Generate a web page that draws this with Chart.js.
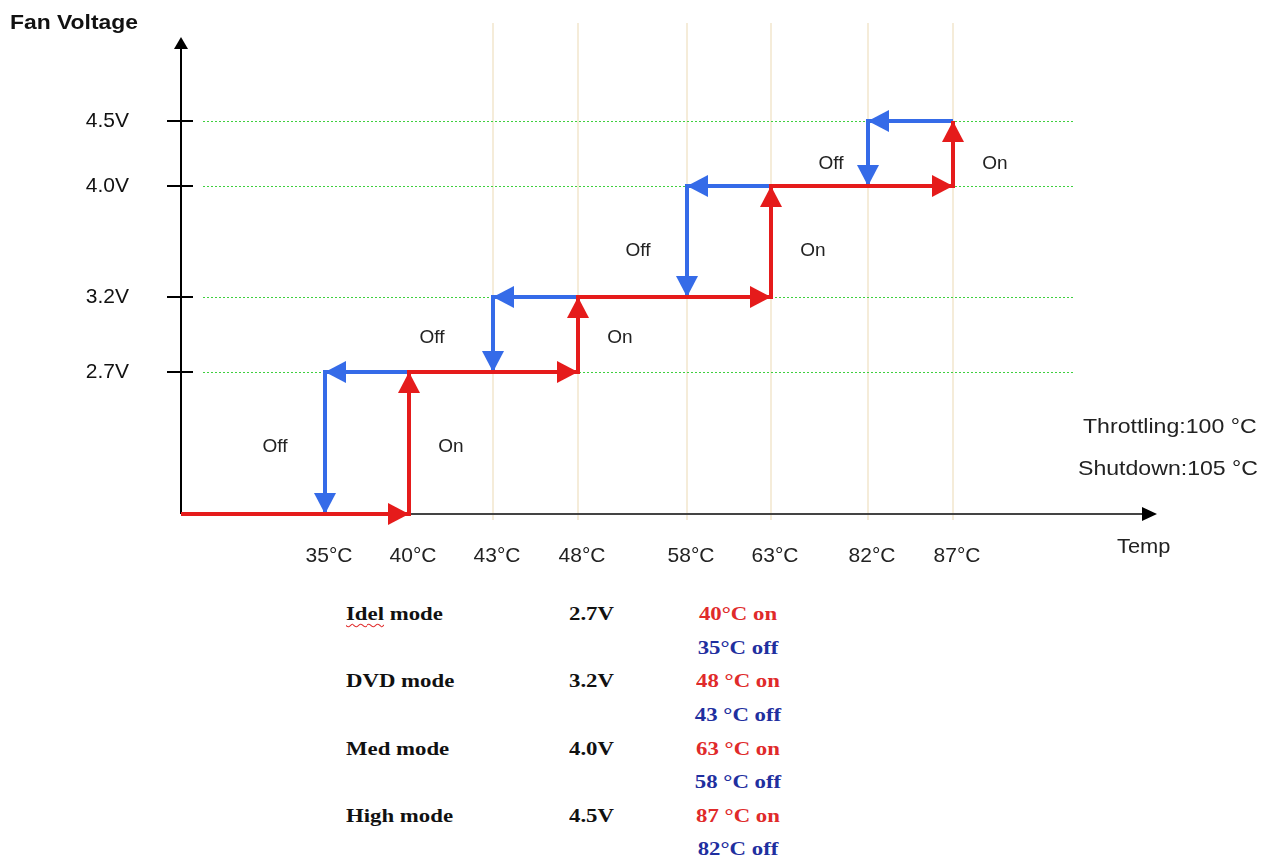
<!DOCTYPE html>
<html>
<head>
<meta charset="utf-8">
<script src="https://cdn.jsdelivr.net/npm/chart.js@4.4.1/dist/chart.umd.min.js"></script>
<style>
  html, body { margin: 0; padding: 0; background: #fff; }
  #wrap { position: relative; width: 1274px; height: 859px; overflow: hidden; }
  #fan { position: absolute; left: 0; top: 0; }
  .t { position: absolute; font: bold 19px "Liberation Serif", "Times New Roman", serif; line-height: 24px;
       white-space: nowrap; color: #111; transform: scaleX(1.2); transform-origin: 0 50%; }
  .c { width: 200px; text-align: center; transform-origin: 50% 50%; }
  .on { color: #e02a2a; }
  .off { color: #1f2f9f; }
  .sp { text-decoration: underline wavy #e03030; text-decoration-thickness: 1px; text-underline-offset: 3px; }
</style>
</head>
<body>
<div id="wrap">
  <canvas id="fan" width="1274" height="600"></canvas>
  <div id="table"></div>
</div>
<script>
// tick temperatures on the axis and the fan voltage steps
const temps = [35, 40, 43, 48, 58, 63, 82, 87];
const volts = [2.7, 3.2, 4.0, 4.5];
const onTemps = [40, 48, 63, 87];
const offTemps = [35, 43, 58, 82];
const modes = ['Idel mode', 'DVD mode', 'Med mode', 'High mode'];
const gapOn = ['', ' ', ' ', ' '];
const gapOff = ['', ' ', ' ', ''];
const throttleTemp = 100;
const shutdownTemp = 105;

const RED = '#e51b1b';
const BLUE = '#356be8';

// the drawing is a schematic: axes are not proportional, so the scale
// maps values piecewise between knots [value, offset along the axis]
class WarpScale extends Chart.LinearScale {
  static id = 'warp';
  static defaults = Chart.LinearScale.defaults;

  toDecimal(v) {
    const k = this.options.knots;
    const total = k[k.length - 1][1];
    let i = 1;
    while (i < k.length - 1 && v > k[i][0]) i++;
    const [v0, p0] = k[i - 1], [v1, p1] = k[i];
    return (p0 + (v - v0) / (v1 - v0) * (p1 - p0)) / total;
  }
  getPixelForValue(v) {
    return this.getPixelForDecimal(this.toDecimal(v));
  }
  getValueForPixel(px) {
    const k = this.options.knots;
    const d = this.getDecimalForPixel(px) * k[k.length - 1][1];
    let i = 1;
    while (i < k.length - 1 && d > k[i][1]) i++;
    const [v0, p0] = k[i - 1], [v1, p1] = k[i];
    return v0 + (d - p0) / (p1 - p0) * (v1 - v0);
  }
}
Chart.register(WarpScale);

function makeArrow(color) {
  const c = document.createElement('canvas');
  c.width = 50; c.height = 50;
  const g = c.getContext('2d');
  g.fillStyle = color;
  g.beginPath();
  g.moveTo(25, 25);
  g.lineTo(36, 46);
  g.lineTo(14, 46);
  g.closePath();
  g.fill();
  return c;
}

// heating path (on), arrow at every corner
const redPts = [{ x: 0, y: 0 }];
onTemps.forEach((t, i) => {
  redPts.push({ x: t, y: i ? volts[i - 1] : 0, rot: 90 });
  redPts.push({ x: t, y: volts[i], rot: 0 });
});

// cooling path (off), separate pieces
const bluePts = [];
for (let i = volts.length - 1; i >= 0; i--) {
  bluePts.push({ x: onTemps[i], y: volts[i] });
  bluePts.push({ x: offTemps[i], y: volts[i], rot: 270 });
  bluePts.push({ x: offTemps[i], y: i ? volts[i - 1] : 0, rot: 180 });
  if (i) bluePts.push({ x: offTemps[i], y: null });
}

function pathSet(label, pts, color, order) {
  const arrow = makeArrow(color);
  return {
    label: label,
    data: pts,
    order: order,
    borderColor: color,
    borderWidth: 4,
    borderJoinStyle: 'miter',
    borderCapStyle: 'butt',
    tension: 0,
    fill: false,
    spanGaps: false,
    clip: false,
    pointStyle: arrow,
    pointRadius: ctx => (ctx.raw && ctx.raw.rot !== undefined ? 6 : 0),
    pointRotation: ctx => (ctx.raw && ctx.raw.rot) || 0
  };
}

function line(ctx, x1, y1, x2, y2) {
  ctx.beginPath();
  ctx.moveTo(x1, y1);
  ctx.lineTo(x2, y2);
  ctx.stroke();
}

function txt(ctx, s, x, y, font, sx, align) {
  ctx.save();
  ctx.font = font;
  ctx.textAlign = align || 'left';
  ctx.translate(x, y);
  ctx.scale(sx, 1);
  ctx.fillText(s, 0, 0);
  ctx.restore();
}

const labelNudge = [[-50, 4], [-61, 3], [-49, 9], [-37, 10]];

const deco = {
  id: 'deco',
  beforeDatasetsDraw(chart) {
    const { ctx, chartArea: a, scales: { x, y } } = chart;
    ctx.save();
    // temperature guides (not drawn for the first step)
    ctx.strokeStyle = '#f2e6cc';
    ctx.lineWidth = 1.5;
    temps.slice(2).forEach(t => {
      const px = Math.round(x.getPixelForValue(t));
      line(ctx, px, a.top - 14, px, a.bottom + 6);
    });
    // voltage guides
    ctx.strokeStyle = '#3fd03f';
    ctx.lineWidth = 1;
    ctx.setLineDash([2, 2]);
    volts.forEach(v => {
      const py = Math.round(y.getPixelForValue(v)) + 0.5;
      line(ctx, a.left + 22, py, a.right - 84, py);
    });
    ctx.setLineDash([]);
    // y axis with arrow
    ctx.strokeStyle = '#000';
    ctx.fillStyle = '#000';
    ctx.lineWidth = 2;
    line(ctx, a.left, a.bottom, a.left, a.top + 10);
    volts.forEach(v => {
      const py = y.getPixelForValue(v);
      line(ctx, a.left - 14, py, a.left + 12, py);
    });
    ctx.beginPath();
    ctx.moveTo(a.left, a.top);
    ctx.lineTo(a.left + 7, a.top + 12);
    ctx.lineTo(a.left - 7, a.top + 12);
    ctx.closePath();
    ctx.fill();
    // x axis with arrow
    ctx.strokeStyle = '#444';
    line(ctx, a.left, a.bottom, a.right - 12, a.bottom);
    ctx.beginPath();
    ctx.moveTo(a.right, a.bottom);
    ctx.lineTo(a.right - 15, a.bottom - 7);
    ctx.lineTo(a.right - 15, a.bottom + 7);
    ctx.closePath();
    ctx.fill();
    ctx.restore();
  },
  afterDraw(chart) {
    const { ctx, chartArea: a, scales: { x, y } } = chart;
    ctx.save();
    ctx.fillStyle = '#111';
    ctx.textBaseline = 'alphabetic';
    txt(ctx, 'Fan Voltage', 10, 29, 'bold 21px "Liberation Sans", Arial, sans-serif', 1.09);
    ctx.fillStyle = '#222';
    txt(ctx, 'Temp', a.right - 40, 553, '21px "Liberation Sans", Arial, sans-serif', 1.04);
    txt(ctx, 'Throttling:' + throttleTemp + ' °C', 1083, 433, '21px "Liberation Sans", Arial, sans-serif', 1.1);
    txt(ctx, 'Shutdown:' + shutdownTemp + ' °C', 1078, 475, '21px "Liberation Sans", Arial, sans-serif', 1.1);
    ctx.textBaseline = 'middle';
    volts.forEach((v, i) => {
      const lo = y.getPixelForValue(i ? volts[i - 1] : 0);
      const hi = y.getPixelForValue(v);
      const mid = (lo + hi) / 2 + labelNudge[i][1];
      txt(ctx, 'Off', x.getPixelForValue(offTemps[i]) + labelNudge[i][0], mid, '19px "Liberation Sans", Arial, sans-serif', 1, 'center');
      txt(ctx, 'On', x.getPixelForValue(onTemps[i]) + 42, mid, '19px "Liberation Sans", Arial, sans-serif', 1, 'center');
    });
    ctx.restore();
  }
};

const tickFont = { family: '"Liberation Sans", Arial, sans-serif', size: 21 };

new Chart(document.getElementById('fan'), {
  type: 'line',
  data: {
    datasets: [
      pathSet('On', redPts, RED, 0),
      pathSet('Off', bluePts, BLUE, 1)
    ]
  },
  options: {
    responsive: false,
    animation: false,
    events: [],
    layout: { padding: { top: 37, right: 117, left: 0, bottom: 0 } },
    plugins: { legend: { display: false }, tooltip: { enabled: false } },
    scales: {
      x: {
        type: 'warp',
        min: 0,
        max: 120,
        knots: [[0, 0], [35, 144], [40, 228], [43, 312], [48, 397], [58, 506], [63, 590], [82, 687], [87, 772], [120, 976]],
        grid: { display: false, drawTicks: false },
        border: { display: false },
        afterBuildTicks: s => { s.ticks = temps.map(v => ({ value: v })); },
        afterFit: s => { s.height = 86; s.paddingLeft = 0; s.paddingRight = 0; },
        ticks: {
          autoSkip: false,
          maxRotation: 0,
          padding: 30,
          labelOffset: 4,
          color: '#222',
          font: tickFont,
          callback: v => v + '°C'
        }
      },
      y: {
        type: 'warp',
        min: 0,
        max: 6,
        knots: [[0, 0], [2.7, 142], [3.2, 217], [4.0, 328], [4.5, 393], [6, 477]],
        grid: { display: false, drawTicks: false },
        border: { display: false },
        afterBuildTicks: s => { s.ticks = volts.map(v => ({ value: v })); },
        afterFit: s => { s.width = 181; s.paddingTop = 0; s.paddingBottom = 0; },
        ticks: {
          autoSkip: false,
          padding: 52,
          color: '#111',
          font: tickFont,
          callback: v => v.toFixed(1) + 'V'
        }
      }
    }
  },
  plugins: [deco]
});

// settings table under the chart
const table = document.getElementById('table');
function put(html, left, cy, cls) {
  const d = document.createElement('div');
  d.className = 't ' + (cls || '');
  d.style.left = left + 'px';
  d.style.top = (cy - 12) + 'px';
  d.innerHTML = html;
  table.appendChild(d);
}
modes.forEach((m, i) => {
  const yOn = 614 + i * 67.3;
  put(m.replace('Idel', '<span class="sp">Idel</span>'), 346, yOn);
  put(volts[i].toFixed(1) + 'V', 569, yOn);
  put(onTemps[i] + gapOn[i] + '°C on', 638, yOn, 'c on');
  put(offTemps[i] + gapOff[i] + '°C off', 638, yOn + 33.5, 'c off');
});
</script>
</body>
</html>
